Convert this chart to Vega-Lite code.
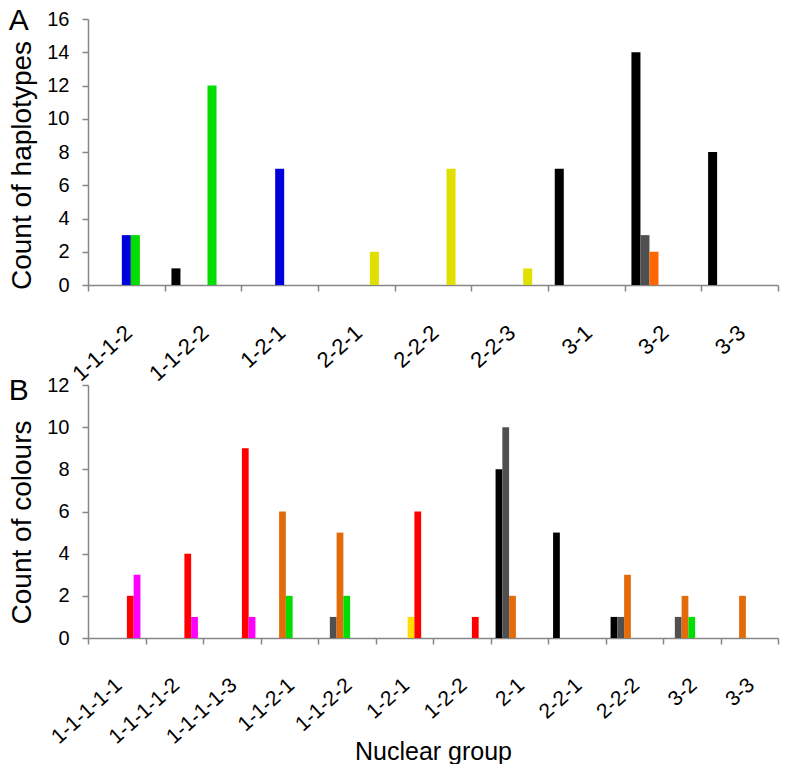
{
  "$schema": "https://vega.github.io/schema/vega-lite/v6.json",
  "background": "white",
  "padding": {"left": 8, "top": 6, "right": 8, "bottom": 0},
  "config": {
    "font": "Liberation Sans",
    "view": {"stroke": null},
    "axis": {
      "labelFont": "Liberation Sans",
      "titleFont": "Liberation Sans",
      "labelColor": "#000000",
      "titleColor": "#000000",
      "titleFontWeight": "normal",
      "domainColor": "#868686",
      "tickColor": "#868686",
      "domainWidth": 1.5,
      "tickWidth": 1.5,
      "grid": false,
      "labelFontSize": 20,
      "titleFontSize": 28
    },
    "title": {"font": "Liberation Sans", "fontWeight": "normal", "fontSize": 30, "color": "#000000"}
  },
  "resolve": {"scale": {"color": "independent", "x": "independent", "xOffset": "independent", "y": "independent"}},
  "spacing": -11,
  "vconcat": [
    {
      "width": 690,
      "height": 266,
      "title": {"text": "A", "anchor": "start", "frame": "bounds", "baseline": "middle", "offset": -42, "dx": 0},
      "data": {"values": [
        {"group": "1-1-1-2", "series": "Blue", "count": 3},
        {"group": "1-1-1-2", "series": "Green", "count": 3},
        {"group": "1-1-2-2", "series": "Black", "count": 1},
        {"group": "1-1-2-2", "series": "Green", "count": 12},
        {"group": "1-2-1", "series": "Blue", "count": 7},
        {"group": "2-2-1", "series": "Yellow", "count": 2},
        {"group": "2-2-2", "series": "Yellow", "count": 7},
        {"group": "2-2-3", "series": "Yellow", "count": 1},
        {"group": "3-1", "series": "Black", "count": 7},
        {"group": "3-2", "series": "Black", "count": 14},
        {"group": "3-2", "series": "Grey", "count": 3},
        {"group": "3-2", "series": "Orange", "count": 2},
        {"group": "3-3", "series": "Black", "count": 8}
      ]},
      "mark": {"type": "bar"},
      "encoding": {
        "x": {
          "field": "group", "type": "nominal",
          "scale": {"domain": ["1-1-1-2", "1-1-2-2", "1-2-1", "2-2-1", "2-2-2", "2-2-3", "3-1", "3-2", "3-3"], "paddingInner": 0, "paddingOuter": 0},
          "axis": {"title": null, "labelFontSize": 22, "labelAngle": -42, "labelAlign": "right", "labelBaseline": "middle", "tickBand": "extent", "tickSize": 6, "labelPadding": 38, "labelOffset": 2}
        },
        "xOffset": {
          "field": "series", "type": "nominal",
          "scale": {"domain": ["Black", "Grey", "Orange", "Blue", "Green", "Yellow", "Other"], "paddingInner": 0, "paddingOuter": 0.75}
        },
        "y": {
          "field": "count", "type": "quantitative",
          "scale": {"domain": [0, 16], "nice": false},
          "axis": {"title": "Count of haplotypes", "titleY": 146, "values": [0, 2, 4, 6, 8, 10, 12, 14, 16], "tickSize": 6, "labelPadding": 13, "titlePadding": 10}
        },
        "color": {
          "field": "series", "type": "nominal", "legend": null,
          "scale": {"domain": ["Black", "Grey", "Orange", "Blue", "Green", "Yellow", "Other"], "range": ["#000000", "#505050", "#FF6600", "#0000DD", "#00DD00", "#E0E000", "#999999"]}
        }
      }
    },
    {
      "width": 690,
      "height": 253,
      "title": {"text": "B", "anchor": "start", "frame": "bounds", "baseline": "middle", "offset": -46, "dx": 0},
      "data": {"values": [
        {"group": "1-1-1-1-1", "series": "Red", "count": 2},
        {"group": "1-1-1-1-1", "series": "Magenta", "count": 3},
        {"group": "1-1-1-1-2", "series": "Red", "count": 4},
        {"group": "1-1-1-1-2", "series": "Magenta", "count": 1},
        {"group": "1-1-1-1-3", "series": "Red", "count": 9},
        {"group": "1-1-1-1-3", "series": "Magenta", "count": 1},
        {"group": "1-1-2-1", "series": "Orange", "count": 6},
        {"group": "1-1-2-1", "series": "Green", "count": 2},
        {"group": "1-1-2-2", "series": "Grey", "count": 1},
        {"group": "1-1-2-2", "series": "Orange", "count": 5},
        {"group": "1-1-2-2", "series": "Green", "count": 2},
        {"group": "1-2-1", "series": "Yellow", "count": 1},
        {"group": "1-2-1", "series": "Red", "count": 6},
        {"group": "1-2-2", "series": "Red", "count": 1},
        {"group": "2-1", "series": "Black", "count": 8},
        {"group": "2-1", "series": "Grey", "count": 10},
        {"group": "2-1", "series": "Orange", "count": 2},
        {"group": "2-2-1", "series": "Black", "count": 5},
        {"group": "2-2-2", "series": "Black", "count": 1},
        {"group": "2-2-2", "series": "Grey", "count": 1},
        {"group": "2-2-2", "series": "Orange", "count": 3},
        {"group": "3-2", "series": "Grey", "count": 1},
        {"group": "3-2", "series": "Orange", "count": 2},
        {"group": "3-2", "series": "Green", "count": 1},
        {"group": "3-3", "series": "Orange", "count": 2}
      ]},
      "mark": {"type": "bar"},
      "encoding": {
        "x": {
          "field": "group", "type": "nominal",
          "scale": {"domain": ["1-1-1-1-1", "1-1-1-1-2", "1-1-1-1-3", "1-1-2-1", "1-1-2-2", "1-2-1", "1-2-2", "2-1", "2-2-1", "2-2-2", "3-2", "3-3"], "paddingInner": 0, "paddingOuter": 0},
          "axis": {"title": "Nuclear group", "titleFontSize": 25, "titleBaseline": "alphabetic", "titleY": 121, "labelFontSize": 21, "labelAngle": -42, "labelAlign": "right", "labelBaseline": "middle", "tickBand": "extent", "tickSize": 6, "labelPadding": 38, "labelOffset": 2}
        },
        "xOffset": {
          "field": "series", "type": "nominal",
          "scale": {"domain": ["Black", "Grey", "Orange", "Green", "Yellow", "Red", "Magenta"], "paddingInner": 0, "paddingOuter": 0.75}
        },
        "y": {
          "field": "count", "type": "quantitative",
          "scale": {"domain": [0, 12], "nice": false},
          "axis": {"title": "Count of colours", "titleY": 137, "values": [0, 2, 4, 6, 8, 10, 12], "tickSize": 6, "labelPadding": 13, "titlePadding": 10}
        },
        "color": {
          "field": "series", "type": "nominal", "legend": null,
          "scale": {"domain": ["Black", "Grey", "Orange", "Green", "Yellow", "Red", "Magenta"], "range": ["#000000", "#505050", "#E36C0A", "#00DD00", "#FFDD00", "#FF0000", "#FF00FF"]}
        }
      }
    }
  ]
}
